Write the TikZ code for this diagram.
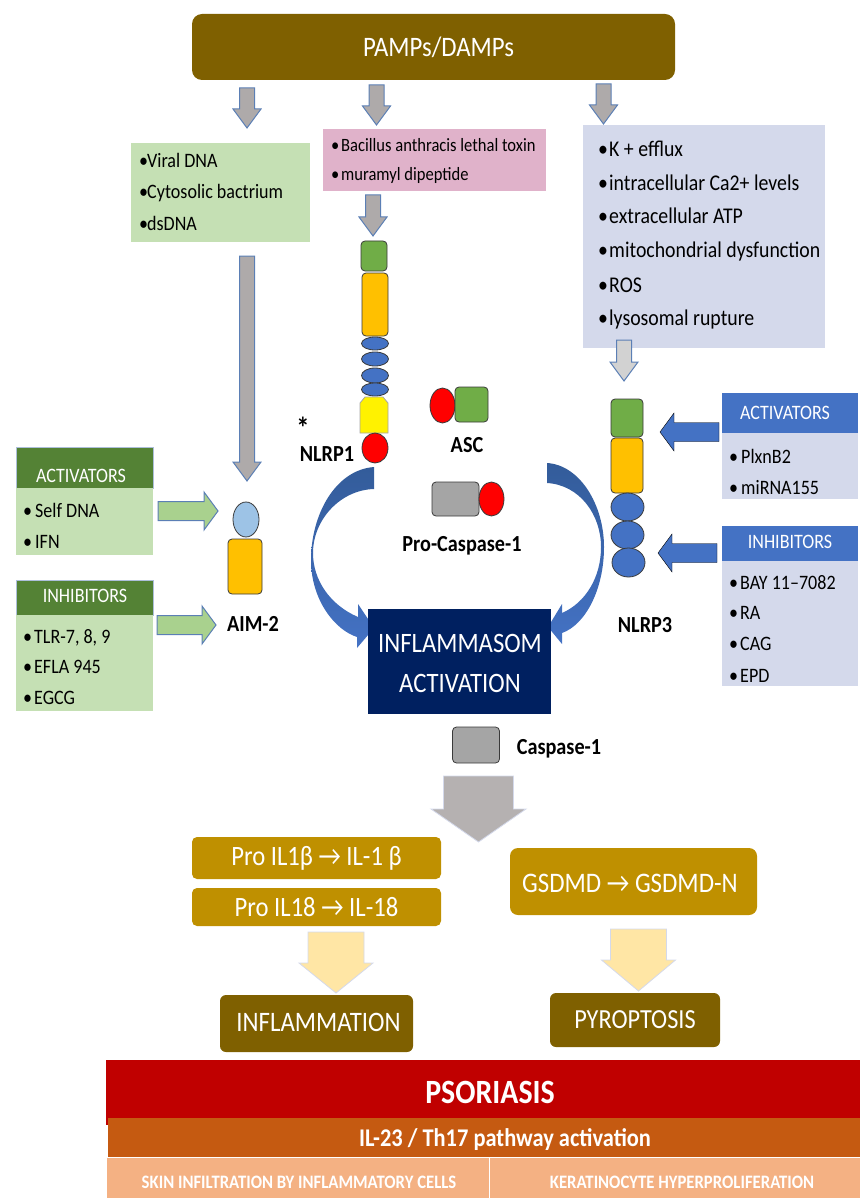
\documentclass[tikz,border=0pt]{standalone}
\usepackage{fontspec}
\setmainfont[FakeStretch=0.88]{Carlito}
\usetikzlibrary{calc}
\usetikzlibrary{shapes.geometric}

\definecolor{olivebrown}{HTML}{7F6000}
\definecolor{gold}{HTML}{BF9000}
\definecolor{arrowgrey}{HTML}{AEAAAA}
\definecolor{biggrey}{HTML}{B5B1B1}
\definecolor{arrowline}{HTML}{5B7FB5}
\definecolor{softgreen}{HTML}{C5E0B4}
\definecolor{arrowgreen}{HTML}{A9D18E}
\definecolor{deepgreen}{HTML}{548235}
\definecolor{softblue}{HTML}{D4D9EB}
\definecolor{skyblue}{HTML}{9DC3E6}
\definecolor{midblue}{HTML}{4472C4}
\definecolor{darkblue}{HTML}{335C9A}
\definecolor{navy}{HTML}{002060}
\definecolor{softpink}{HTML}{E0B2CA}
\definecolor{domgreen}{HTML}{70AD47}
\definecolor{domorange}{HTML}{FFC000}
\definecolor{domgrey}{HTML}{A5A5A5}
\definecolor{domedge}{HTML}{3A3A3A}
\definecolor{paleyellow}{HTML}{FFE6A5}
\definecolor{psorred}{HTML}{C00000}
\definecolor{psororange}{HTML}{C55A11}
\definecolor{psorpeach}{HTML}{F4B183}

\newcommand{\lit}[2][9pt]{\makebox[#1][l]{•}#2}

\tikzset{
  box/.style = {rectangle, inner sep = 0pt, text = white},
  dombox/.style = {rectangle, rounded corners = 4pt, inner sep = 0pt, draw = domedge, line width = 0.8pt},
  oval/.style = {ellipse, inner sep = 0pt, draw = domedge, line width = 0.8pt},
  namelabel/.style = {font = \bfseries\fontsize{23}{26}\selectfont, inner sep = 0pt},
  listitem/.style = {anchor = west, inner sep = 0pt, text height = 19pt, text depth = 5pt, font = \fontsize{20.5}{24}\selectfont},
  headtext/.style = {inner sep = 0pt, text = white, font = \fontsize{20.5}{24}\selectfont},
  blockarrow/.style n args = {3}{to path = {
    ($(\tikztostart)!#1pt!90:(\tikztotarget)$)
    -- ($($(\tikztotarget)!#3pt!(\tikztostart)$)!#1pt!90:(\tikztotarget)$)
    -- ($($(\tikztotarget)!#3pt!(\tikztostart)$)!#2pt!90:(\tikztotarget)$)
    -- (\tikztotarget)
    -- ($($(\tikztotarget)!#3pt!(\tikztostart)$)!#2pt!-90:(\tikztotarget)$)
    -- ($($(\tikztotarget)!#3pt!(\tikztostart)$)!#1pt!-90:(\tikztotarget)$)
    -- ($(\tikztostart)!#1pt!-90:(\tikztotarget)$) -- cycle}},
  greyarrow/.style = {fill = arrowgrey, draw = arrowline, line width = 1pt, blockarrow = {7.5}{14}{19}},
  greenarrow/.style = {fill = arrowgreen, draw = arrowline, line width = 1pt, blockarrow = {9.5}{19}{14}},
  bluearrow/.style = {fill = midblue, blockarrow = {9.5}{19}{14}},
  paleline/.style = {draw = softblue, line width = 0.8pt}
}

\begin{document}
\begin{tikzpicture}[x = 1pt, y = -1pt]
\useasboundingbox (0, 0) rectangle (860, 1198);

% top box and sensors
\node[box, fill = olivebrown, rounded corners = 10pt, minimum width = 483pt, minimum height = 66pt] (pamps) at (433.5, 47){};
\node[headtext, font = \fontsize{28.2}{32}\selectfont] (pampstext) at (438.5, 47){PAMPs/DAMPs};

\node[box, fill = softgreen, minimum width = 179pt, minimum height = 99pt] (viralbox) at (220.5, 192.5){};
\node[listitem] (viral) at (139, 161){\lit[8pt]{Viral DNA}};
\node[listitem] (cyto) at (139, 192){\lit[8pt]{Cytosolic bactrium}};
\node[listitem] (dsdna) at (139, 223){\lit[8pt]{dsDNA}};

\node[box, fill = softpink, minimum width = 223pt, minimum height = 62pt] (toxinbox) at (434.5, 160){};
\node[listitem, font = \fontsize{18.8}{22}\selectfont] (toxin) at (331, 145){\lit[10pt]{Bacillus anthracis lethal toxin}};
\node[listitem, font = \fontsize{18.8}{22}\selectfont] (muramyl) at (331, 174){\lit[10pt]{muramyl dipeptide}};

\node[box, fill = softblue, minimum width = 242pt, minimum height = 223pt] (stressbox) at (704, 236.5){};
\node[listitem, font = \fontsize{22.5}{26}\selectfont] (efflux) at (598, 150){\lit[11pt]{K + efflux}};
\node[listitem, font = \fontsize{22.5}{26}\selectfont] (calcium) at (598, 184){\lit[11pt]{intracellular Ca2+ levels}};
\node[listitem, font = \fontsize{22.5}{26}\selectfont] (atp) at (598, 217){\lit[11pt]{extracellular ATP}};
\node[listitem, font = \fontsize{22.5}{26}\selectfont] (mito) at (598, 251){\lit[11pt]{mitochondrial dysfunction}};
\node[listitem, font = \fontsize{22.5}{26}\selectfont] (ros) at (598, 285){\lit[11pt]{ROS}};
\node[listitem, font = \fontsize{22.5}{26}\selectfont] (lyso) at (598, 318){\lit[11pt]{lysosomal rupture}};

% grey arrows
\coordinate (viralin) at (247, 88);
\coordinate (viraltip) at (247, 128);
\coordinate (toxinin) at (376.5, 85);
\coordinate (toxintip) at (376.5, 125);
\coordinate (stressin) at (603.5, 84);
\coordinate (stresstip) at (603.5, 124);
\coordinate (nlrpin) at (373, 195);
\coordinate (nlrptip) at (373, 236);
\coordinate (aimin) at (247, 256);
\coordinate (aimtip) at (247, 481);
\coordinate (lysoin) at (624, 340);
\coordinate (lysotip) at (624, 381);
\draw[greyarrow] (viralin) to (viraltip);
\draw[greyarrow] (toxinin) to (toxintip);
\draw[greyarrow] (stressin) to (stresstip);
\draw[greyarrow] (nlrpin) to (nlrptip);
\draw[greyarrow] (aimin) to (aimtip);
\draw[greyarrow, fill = domgrey!50!white] (lysoin) to (lysotip);

% NLRP1
\node[dombox, fill = domgreen, minimum width = 26pt, minimum height = 30pt] (nlrpgreen) at (374, 256){};
\node[dombox, fill = domorange, minimum width = 26pt, minimum height = 63pt] (nlrporange) at (375, 304.5){};
\node[oval, fill = midblue, minimum width = 27pt, minimum height = 13pt] (nlrpa) at (375, 343.5){};
\node[oval, fill = midblue, minimum width = 27pt, minimum height = 14pt] (nlrpb) at (375, 359){};
\node[oval, fill = midblue, minimum width = 27pt, minimum height = 15pt] (nlrpc) at (375, 375.5){};
\node[oval, fill = midblue, minimum width = 27pt, minimum height = 13pt] (nlrpd) at (375, 389.5){};
\draw[fill = yellow, draw = domgrey, line width = 0.8pt] (360, 433) -- (360, 403) -- (365, 397) -- (383, 397) -- (388, 403) -- (388, 433) -- cycle;
\node[oval, fill = red, minimum width = 26pt, minimum height = 30pt] (nlrpred) at (375, 448){};
\node[inner sep = 0pt, font = \bfseries\fontsize{30}{30}\selectfont] (star) at (303, 428){*};
\node[namelabel] (nlrpone) at (327, 454){NLRP1};

% ASC and Pro-Caspase-1
\node[oval, fill = red, minimum width = 25pt, minimum height = 35pt] (ascred) at (442.5, 405.5){};
\node[dombox, fill = domgreen, minimum width = 33pt, minimum height = 35pt] (ascgreen) at (471.5, 404.5){};
\node[namelabel] (asc) at (467, 445){ASC};
\node[dombox, fill = domgrey, minimum width = 47pt, minimum height = 34pt] (procaspgrey) at (455.5, 499){};
\node[oval, fill = red, minimum width = 25pt, minimum height = 34pt] (procaspred) at (491.5, 499){};
\node[namelabel] (procasp) at (462, 546){Pro-Caspase-1};

% curved arrows
\shade[top color = darkblue, bottom color = midblue] (374, 467)
  .. controls (335, 470) and (311, 515) .. (311, 560)
  .. controls (311, 600) and (335, 630) .. (357, 637)
  -- (357, 648) -- (374, 628) -- (358, 604) -- (358, 617)
  .. controls (330, 605) and (313, 580) .. (313, 553)
  .. controls (313, 520) and (340, 490) .. (374, 489) -- cycle;
\shade[top color = darkblue, bottom color = midblue] (547, 463)
  .. controls (580, 465) and (604, 505) .. (604, 547)
  .. controls (604, 590) and (585, 625) .. (562, 633)
  -- (562, 644) -- (548, 627) -- (562, 604) -- (562, 613)
  .. controls (585, 603) and (601, 578) .. (601, 547)
  .. controls (601, 515) and (580, 485) .. (547, 483) -- cycle;

\node[box, fill = navy, minimum width = 183pt, minimum height = 105pt] (inflbox) at (459.5, 661.5){};
\node[headtext, font = \fontsize{28.1}{32}\selectfont] (inflone) at (460, 643){INFLAMMASOM};
\node[headtext, font = \fontsize{28.1}{32}\selectfont] (infltwo) at (460, 683){ACTIVATION};

% AIM-2 side
\node[box, fill = deepgreen, draw = arrowline!50!white, line width = 0.6pt, minimum width = 137pt, minimum height = 41pt] (aimactbox) at (84.5, 467.5){};
\node[headtext] (aimact) at (81, 476){ACTIVATORS};
\node[box, fill = softgreen, minimum width = 137pt, minimum height = 67pt] (aimactlist) at (84.5, 521.5){};
\node[listitem] (selfdna) at (23, 510){\lit[12pt]{Self DNA}};
\node[listitem] (ifn) at (23, 541){\lit[12pt]{IFN}};
\node[box, fill = deepgreen, draw = arrowline!50!white, line width = 0.6pt, minimum width = 137pt, minimum height = 35pt] (aiminhbox) at (84.5, 597.5){};
\node[headtext] (aiminh) at (85, 596){INHIBITORS};
\node[box, fill = softgreen, minimum width = 137pt, minimum height = 96pt] (aiminhlist) at (84.5, 663){};
\node[listitem] (tlr) at (23, 636){\lit[11pt]{TLR-7, 8, 9}};
\node[listitem] (efla) at (23, 666){\lit[11pt]{EFLA 945}};
\node[listitem] (egcg) at (23, 697){\lit[11pt]{EGCG}};

\coordinate (aimactin) at (158, 511);
\coordinate (aimacttip) at (218, 511);
\coordinate (aiminhin) at (157, 625);
\coordinate (aiminhtip) at (216, 625);
\draw[greenarrow] (aimactin) to (aimacttip);
\draw[greenarrow] (aiminhin) to (aiminhtip);

\node[oval, fill = skyblue, minimum width = 26pt, minimum height = 35pt] (aimhead) at (246, 519.5){};
\node[dombox, fill = domorange, minimum width = 34pt, minimum height = 55pt] (aimbody) at (245, 566.5){};
\node[namelabel] (aim) at (253, 624){AIM-2};

% NLRP3 side
\node[dombox, fill = domgreen, minimum width = 32pt, minimum height = 38pt] (nlrthgreen) at (627, 418){};
\node[dombox, fill = domorange, minimum width = 32pt, minimum height = 55pt] (nlrthorange) at (627, 465.5){};
\node[oval, fill = midblue, minimum width = 33pt, minimum height = 28pt] (nlrtha) at (627.5, 507){};
\node[oval, fill = midblue, minimum width = 33pt, minimum height = 28pt] (nlrthb) at (627.5, 535){};
\node[oval, fill = midblue, minimum width = 33pt, minimum height = 29pt] (nlrthc) at (628.5, 562.5){};
\node[namelabel] (nlrth) at (645, 625){NLRP3};

\node[box, fill = midblue, minimum width = 136pt, minimum height = 40pt] (nlractbox) at (790, 413){};
\node[headtext] (nlract) at (785, 413){ACTIVATORS};
\node[box, fill = softblue, minimum width = 136pt, minimum height = 66pt] (nlractlist) at (790, 466){};
\node[listitem] (plxn) at (729, 456){\lit[12pt]{PlxnB2}};
\node[listitem] (mirna) at (729, 487){\lit[12pt]{miRNA155}};
\node[box, fill = midblue, minimum width = 136pt, minimum height = 35pt] (nlrinhbox) at (790, 543.5){};
\node[headtext] (nlrinh) at (790, 542){INHIBITORS};
\node[box, fill = softblue, minimum width = 136pt, minimum height = 125pt] (nlrinhlist) at (790, 623.5){};
\node[listitem] (bay) at (729, 582){\lit[11pt]{BAY 11–7082}};
\node[listitem] (ra) at (729, 612){\lit[11pt]{RA}};
\node[listitem] (cag) at (729, 643){\lit[11pt]{CAG}};
\node[listitem] (epd) at (729, 675){\lit[11pt]{EPD}};

\coordinate (nlractin) at (719, 432);
\coordinate (nlracttip) at (660, 432);
\coordinate (nlrinhin) at (717, 553);
\coordinate (nlrinhtip) at (658, 553);
\draw[bluearrow] (nlractin) to (nlracttip);
\draw[bluearrow] (nlrinhin) to (nlrinhtip);

% caspase and products
\node[dombox, fill = domgrey, minimum width = 47pt, minimum height = 36pt] (caspgrey) at (476, 745){};
\node[namelabel] (casp) at (559, 749){Caspase-1};
\coordinate (caspin) at (478.5, 776);
\coordinate (casptip) at (478.5, 842);
\draw[fill = biggrey, draw = softblue, line width = 0.8pt, blockarrow = {35}{47.5}{33}] (caspin) to (casptip);

\node[box, fill = gold, rounded corners = 5pt, minimum width = 249pt, minimum height = 42pt, font = \fontsize{28}{32}\selectfont] (proone) at (316.5, 858){Pro IL1β → IL-1 β};
\node[box, fill = gold, rounded corners = 5pt, minimum width = 249pt, minimum height = 38pt, font = \fontsize{28}{32}\selectfont] (proeight) at (316.5, 907){Pro IL18 → IL-18};
\node[box, fill = gold, rounded corners = 8pt, minimum width = 247pt, minimum height = 67pt] (gsdmd) at (633.5, 881.5){};
\node[headtext, font = \fontsize{28.3}{32}\selectfont] (gsdmdtext) at (630, 883){GSDMD → GSDMD-N};

\coordinate (proin) at (336, 932);
\coordinate (protip) at (336, 993);
\coordinate (gsdin) at (638.5, 929);
\coordinate (gsdtip) at (638.5, 991);
\draw[fill = paleyellow, paleline, blockarrow = {28}{37}{30}] (proin) to (protip);
\draw[fill = paleyellow, paleline, blockarrow = {28}{37}{31}] (gsdin) to (gsdtip);

\node[box, fill = olivebrown, rounded corners = 6pt, minimum width = 193pt, minimum height = 57pt] (inflambox) at (316.5, 1023.5){};
\node[headtext, font = \fontsize{28.2}{32}\selectfont] (inflam) at (318.5, 1022){INFLAMMATION};
\node[box, fill = olivebrown, rounded corners = 6pt, minimum width = 170pt, minimum height = 54pt, font = \fontsize{27.6}{32}\selectfont] (pyro) at (635, 1020){PYROPTOSIS};

% psoriasis bands
\node[box, fill = psorred, minimum width = 754pt, minimum height = 65pt] (psorband) at (483, 1092.5){};
\node[headtext, font = \bfseries\fontsize{34}{38}\selectfont] (psor) at (490, 1092){PSORIASIS};
\node[box, fill = psororange, minimum width = 752pt, minimum height = 39pt] (ilband) at (484, 1137.5){};
\node[headtext, font = \bfseries\fontsize{25.5}{30}\selectfont] (il) at (505, 1140){IL-23 / Th17 pathway activation};
\node[box, fill = psorpeach, minimum width = 382pt, minimum height = 40pt] (skinband) at (298, 1178){};
\node[headtext, font = \bfseries\fontsize{19}{22}\selectfont] (skin) at (299, 1182){SKIN INFILTRATION BY INFLAMMATORY CELLS};
\node[box, fill = psorpeach, minimum width = 370pt, minimum height = 40pt] (kerband) at (675, 1178){};
\node[headtext, font = \bfseries\fontsize{19}{22}\selectfont] (ker) at (682, 1182){KERATINOCYTE HYPERPROLIFERATION};
\end{tikzpicture}
\end{document}
